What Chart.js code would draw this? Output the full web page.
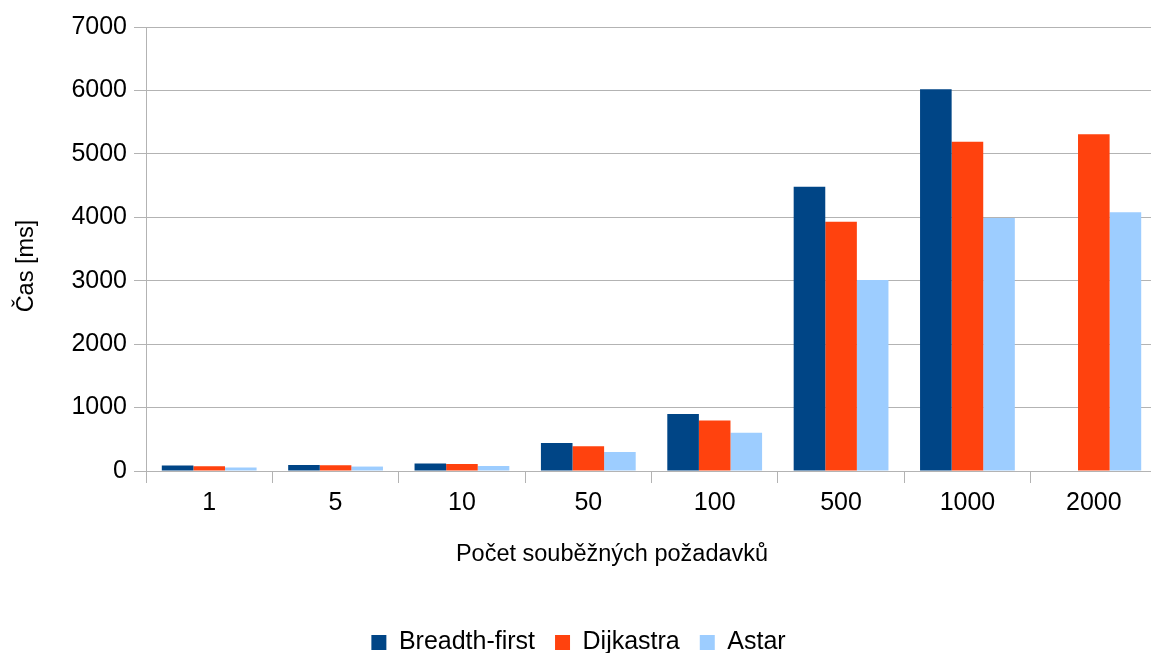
<!DOCTYPE html>
<html lang="cs">
<head>
<meta charset="utf-8">
<title>Čas zpracování požadavků</title>
<script src="https://cdn.jsdelivr.net/npm/chart.js@4/dist/chart.umd.min.js"></script>
<style>
  html, body { margin: 0; padding: 0; background: #fff; overflow: hidden; }
  #wrap { width: 1157px; height: 665px; }
</style>
</head>
<body>
<div id="wrap"><canvas id="chart" width="1157" height="665"></canvas></div>
<script>
// Počet souběžných požadavků
const categories = ['1', '5', '10', '50', '100', '500', '1000', '2000'];

// Průměrný čas odpovědi [ms] pro jednotlivé algoritmy
const breadthFirst = [85, 95, 117, 440, 898, 4480, 6020, null];
const dijkstra     = [75, 90, 110, 390, 795, 3930, 5190, 5310];
const astar        = [55, 70, 80, 300, 603, 3010, 3990, 4080];

const yTicks = [0, 1000, 2000, 3000, 4000, 5000, 6000, 7000];

const xTitle = 'Počet souběžných požadavků';
const yTitle = 'Čas [ms]';

const FONT = "'Liberation Sans', Arial, sans-serif";
const GRID = '#b3b3b3';

// Axis titles are drawn by hand so they can sit off the plot-area centre.
const axisTitles = {
  id: 'axisTitles',
  afterDraw(chart) {
    const ctx = chart.ctx;
    ctx.save();
    ctx.fillStyle = '#000';
    ctx.font = '23.5px ' + FONT;
    ctx.textAlign = 'center';
    ctx.textBaseline = 'alphabetic';
    ctx.fillText(xTitle, 612, 561);
    ctx.translate(33, 266);
    ctx.rotate(-Math.PI / 2);
    ctx.fillText(yTitle, 0, 0);
    ctx.restore();
  }
};

new Chart(document.getElementById('chart'), {
  type: 'bar',
  data: {
    labels: categories,
    datasets: [
      { label: 'Breadth-first', data: breadthFirst, backgroundColor: '#004586' },
      { label: 'Dijkastra', data: dijkstra, backgroundColor: '#ff420e' },
      { label: 'Astar', data: astar, backgroundColor: '#9dcdff' }
    ]
  },
  plugins: [axisTitles],
  options: {
    responsive: false,
    animation: false,
    layout: { padding: { top: 27, left: 0, right: 0, bottom: 0 } },
    datasets: { bar: { categoryPercentage: 0.75, barPercentage: 1.0 } },
    plugins: {
      tooltip: { enabled: false },
      legend: {
        position: 'bottom',
        labels: {
          boxWidth: 15,
          boxHeight: 15,
          padding: 20,
          color: '#000',
          font: { family: FONT, size: 25 }
        }
      }
    },
    scales: {
      x: {
        grid: {
          offset: true,
          drawOnChartArea: false,
          drawTicks: true,
          tickLength: 12,
          color: GRID
        },
        border: { color: GRID },
        ticks: { color: '#000', padding: 5, font: { family: FONT, size: 25 } },
        afterFit(scale) { scale.height = 139; }
      },
      y: {
        min: 0,
        max: 7000,
        afterBuildTicks(scale) { scale.ticks = yTicks.map(v => ({ value: v })); },
        grid: { color: GRID, tickLength: 12 },
        border: { color: GRID },
        ticks: {
          color: '#000',
          padding: 7,
          font: { family: FONT, size: 25 },
          callback: (v) => String(v)
        },
        afterFit(scale) { scale.width = 146; }
      }
    }
  }
});
</script>
</body>
</html>
